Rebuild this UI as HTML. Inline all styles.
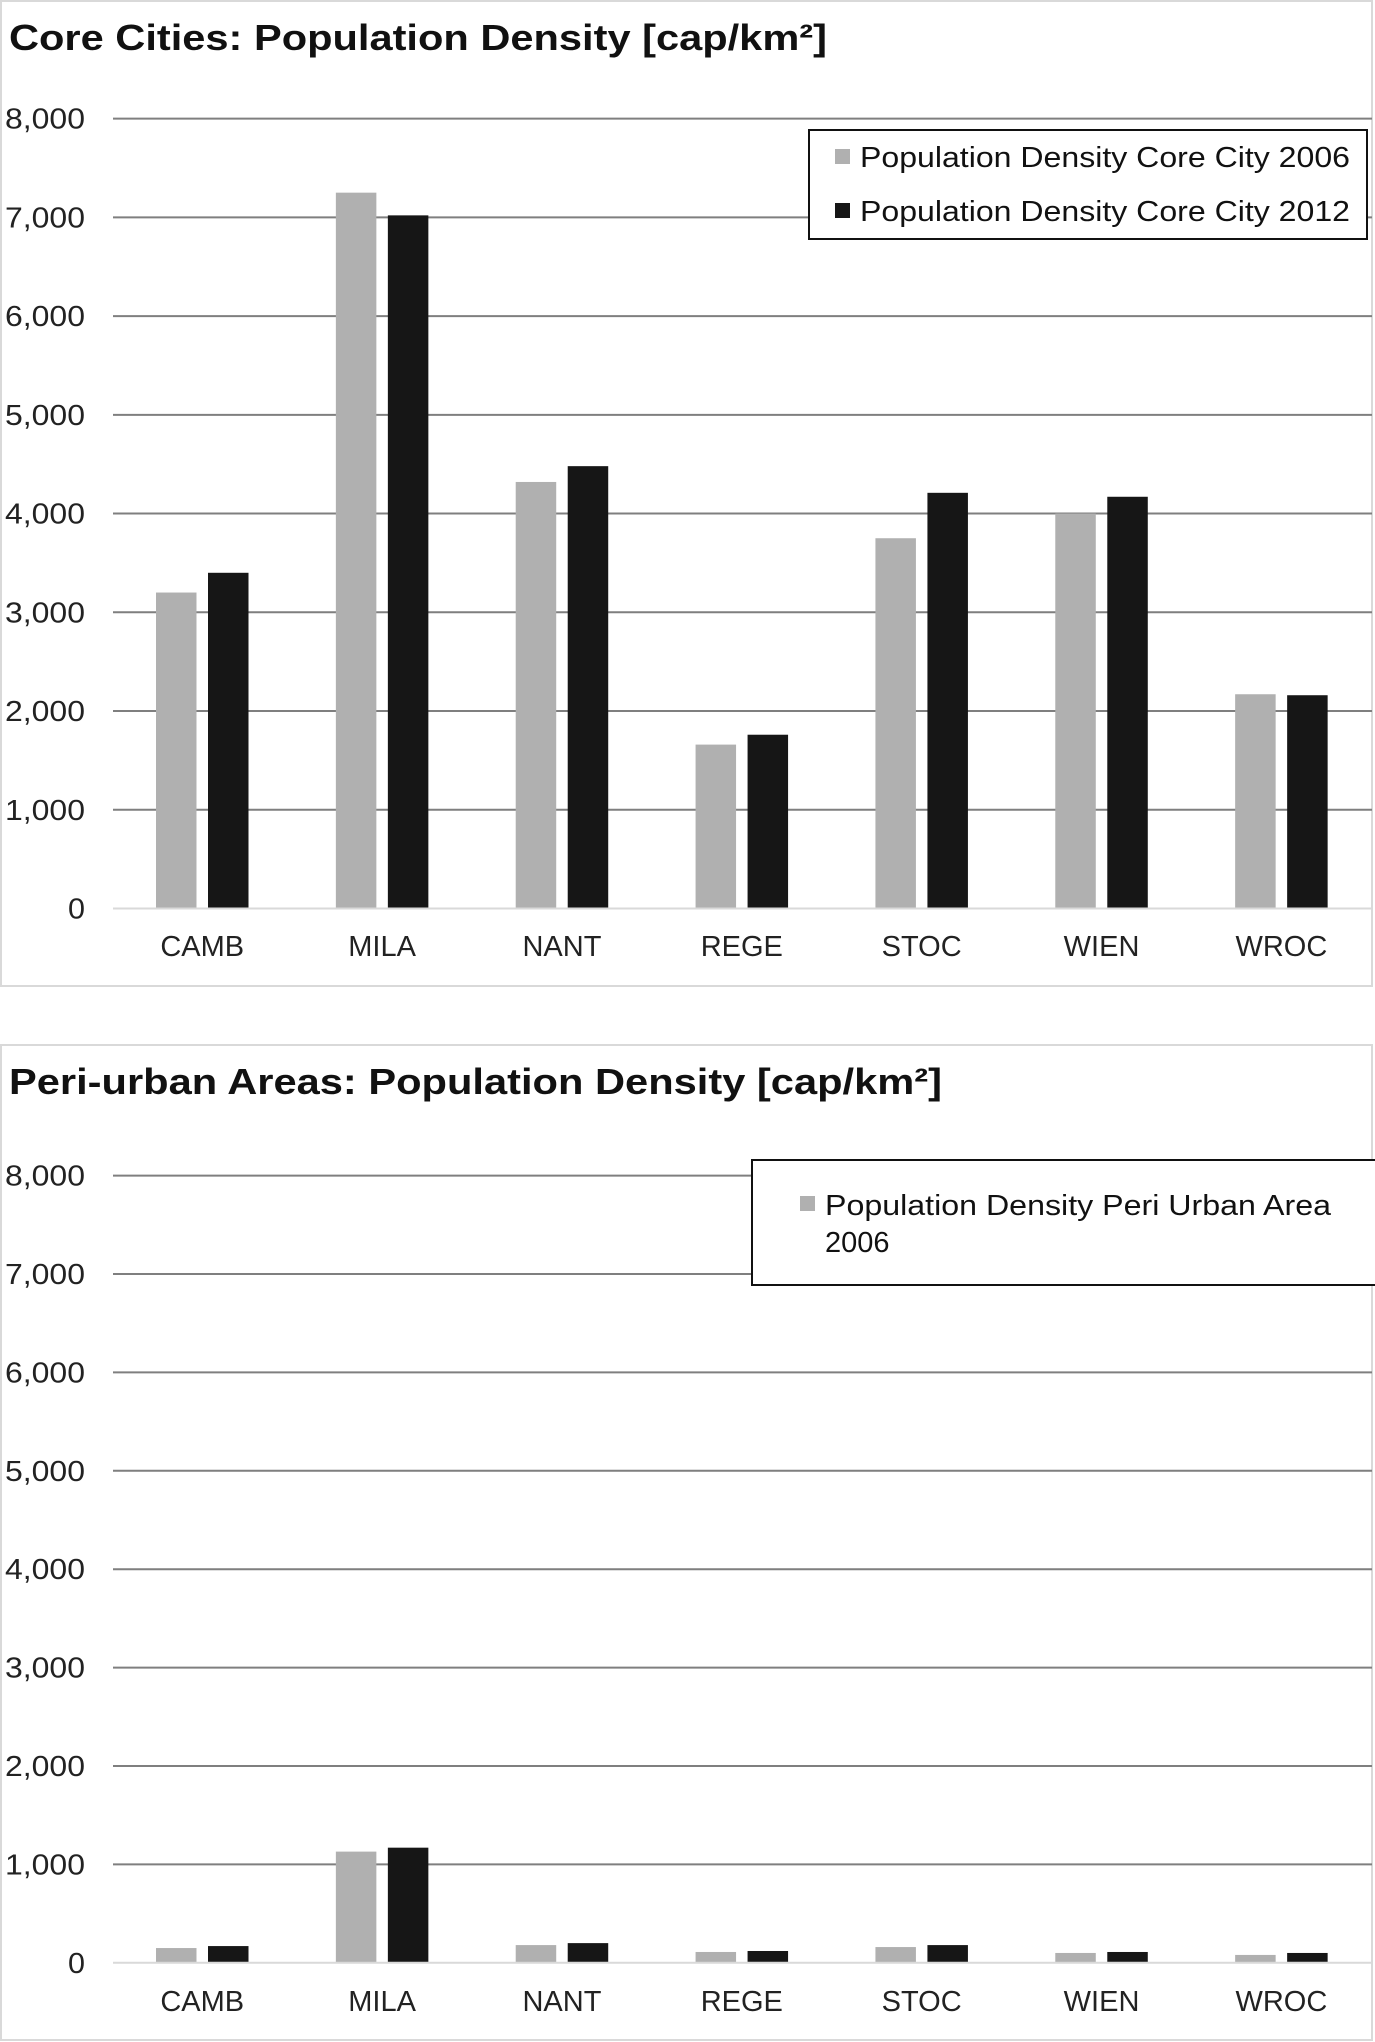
<!DOCTYPE html>
<html><head><meta charset="utf-8">
<style>
html,body{margin:0;padding:0;background:#fff;}
svg{display:block;font-family:"Liberation Sans",Arial,sans-serif;}
</style></head>
<body>
<svg id="chart" width="1375" height="2042" viewBox="0 0 1375 2042" xmlns="http://www.w3.org/2000/svg"></svg>
<script>
const categories = ["CAMB","MILA","NANT","REGE","STOC","WIEN","WROC"];
const coreValues2006 = [3200,7250,4320,1660,3750,4000,2170];
const coreValues2012 = [3400,7020,4480,1760,4210,4170,2160];
const periValues2006 = [150,1130,180,110,160,100,80];
const periValues2012 = [170,1170,200,120,180,110,100];
const yTickValues = [0,1000,2000,3000,4000,5000,6000,7000,8000];
const yTickLabels = ["0","1,000","2,000","3,000","4,000","5,000","6,000","7,000","8,000"];

const NS = "http://www.w3.org/2000/svg";
const svg = document.getElementById("chart");
function mk(tag, attrs, parent, text){
  const e = document.createElementNS(NS, tag);
  for (const k in attrs) e.setAttribute(k, attrs[k]);
  if (text !== undefined) e.textContent = text;
  (parent || svg).appendChild(e);
  return e;
}

function drawChart(cfg){
  const g = mk("g", {});
  
  
  const frame = mk("rect", {x:1, y:cfg.frameTop, width:1371, height:cfg.frameBottom-cfg.frameTop, fill:"none", stroke:"#d9d9d9", "stroke-width":2}, g);
  
  
  const title = mk("text", {x:9, y:cfg.titleY, "font-size":36, "font-weight":"bold", fill:"#111", textLength:cfg.titleLen, lengthAdjust:"spacingAndGlyphs"}, g, cfg.title);
  
  

  const x0 = 113, x1 = 1372, band = (x1 - x0) / categories.length;
  const yScale = v => cfg.y0 + (cfg.y8000 - cfg.y0) * v / 8000;

  yTickValues.forEach((v, i) => {
    const y = yScale(v);
    if (v > 0) {
      const gl = mk("line", {x1:x0, x2:x1, y1:y, y2:y, stroke:"#7f7f7f", "stroke-width":2}, g);
      
      
    }
    const t = mk("text", {x:85, y:y+10, "text-anchor":"end", "font-size":29, fill:"#222", textLength:yTickLabels[i].length>1?80:17, lengthAdjust:"spacingAndGlyphs"}, g, yTickLabels[i]);
    
    
  });

  const bw = 40.5, gap = 11.5, off = 43;
  categories.forEach((c, i) => {
    const bx = x0 + band * i;
    [[cfg.s1, "#b0b0b0"], [cfg.s2, "#161616"]].forEach((s, j) => {
      const v = s[0][i];
      const yt = yScale(v);
      const r = mk("rect", {x:bx + off + j*(bw+gap), y:yt, width:bw, height:yScale(0)-yt, fill:s[1]}, g);
      
      
    });
    const t = mk("text", {x:bx + off + bw + gap/2, y:cfg.catY, "text-anchor":"middle", "font-size":29, fill:"#222"}, g, c);
    
    
  });
  const base = mk("line", {x1:x0, x2:x1, y1:yScale(0), y2:yScale(0), stroke:"#d9d9d9", "stroke-width":2}, g);
  
  

  const lg = mk("g", {}, g);
  
  
  mk("rect", {x:cfg.leg.x, y:cfg.leg.y, width:cfg.leg.w, height:cfg.leg.h, fill:"#fff", stroke:"#111", "stroke-width":2}, lg);
  cfg.leg.entries.forEach(en => {
    const sw = mk("rect", {x:en.sx, y:en.sy, width:15, height:15, fill:en.color}, lg);
    
    
    en.lines.forEach((ln, k) => {
      const t = mk("text", {x:en.tx, y:en.ty + k*37, "font-size":29, fill:"#111"}, lg, ln.text);
      if (ln.len) { t.setAttribute("textLength", ln.len); t.setAttribute("lengthAdjust", "spacingAndGlyphs"); }
      
      
    });
  });
}

drawChart({
  name:"core-cities-chart", frameTop:1, frameBottom:986,
  title:"Core Cities: Population Density [cap/km²]", titleY:50, titleLen:818,
  y0:908.5, y8000:118.6, catY:956,
  s1:coreValues2006, s2:coreValues2012,
  leg:{x:809, y:130, w:558, h:109, entries:[
    {color:"#b0b0b0", sx:835, sy:149, tx:860, ty:167, lines:[{text:"Population Density Core City 2006", len:490}]},
    {color:"#161616", sx:835, sy:203, tx:860, ty:221, lines:[{text:"Population Density Core City 2012", len:490}]}
  ]}
});
drawChart({
  name:"peri-urban-chart", frameTop:1045, frameBottom:2040,
  title:"Peri-urban Areas: Population Density [cap/km²]", titleY:1094, titleLen:933,
  y0:1962.8, y8000:1175.6, catY:2011,
  s1:periValues2006, s2:periValues2012,
  leg:{x:752, y:1160, w:630, h:125, entries:[
    {color:"#b0b0b0", sx:800, sy:1196, tx:825, ty:1215, lines:[{text:"Population Density Peri Urban Area", len:506},{text:"2006"}]}
  ]}
});
</script>
</body></html>
